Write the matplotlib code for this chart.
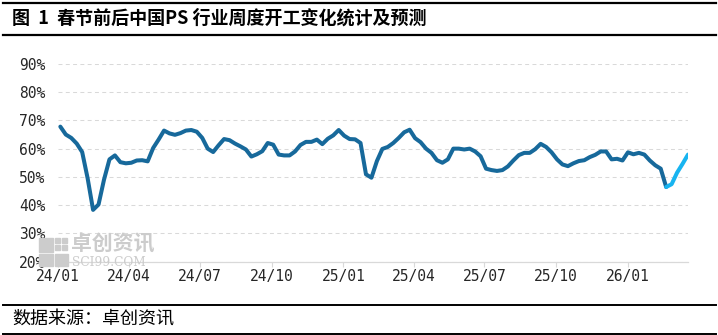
import matplotlib
matplotlib.use("Agg")
import matplotlib.pyplot as plt
from matplotlib.lines import Line2D
from matplotlib.patches import Rectangle
import pandas as pd

plt.rcParams['font.family'] = ['Noto Sans CJK SC', 'DejaVu Sans']

title = "图  1  春节前后中国PS 行业周度开工变化统计及预测"
source = "数据来源：卓创资讯"

start_date = "2024-01-04"
rates = [67.8, 65.0, 63.8, 61.8, 58.8, 49.5, 38.3, 40.2, 49.0, 56.2,
         57.6, 55.2, 54.8, 55.0, 55.8, 55.9, 55.5, 60.2, 63.2, 66.4,
         65.4, 64.9, 65.5, 66.4, 66.6, 66.0, 63.8, 60.0, 58.8, 61.2,
         63.4, 63.0, 61.8, 60.8, 59.7, 57.2, 58.0, 59.1, 62.0, 61.4,
         57.9, 57.6, 57.6, 59.0, 61.3, 62.4, 62.4, 63.2, 61.6, 63.5,
         64.7, 66.6, 64.6, 63.4, 63.3, 62.0, 50.9, 49.7, 55.6, 59.9,
         60.6, 62.0, 63.8, 65.8, 66.7, 63.7, 62.3, 60.0, 58.5, 55.9,
         55.0, 56.2, 60.0, 60.0, 59.7, 60.0, 59.0, 57.3, 52.9, 52.4,
         52.1, 52.4, 53.7, 55.8, 57.7, 58.5, 58.5, 59.8, 61.7, 60.6,
         58.7, 56.2, 54.4, 53.8, 54.8, 55.6, 55.9, 57.0, 57.8, 59.0,
         59.0, 56.2, 56.4, 55.8, 58.7, 58.0, 58.5, 57.9, 55.8, 54.1,
         52.9, 46.4]
forecast = [46.4, 47.4, 51.5, 54.6, 57.9]

dates = pd.date_range(start_date, periods=len(rates) + len(forecast) - 1, freq="7D")
actual_dates = dates[:len(rates)]
forecast_dates = dates[len(rates) - 1:]

y_ticks = [20, 30, 40, 50, 60, 70, 80, 90]
x_ticks = ["2024-01-01", "2024-04-01", "2024-07-01", "2024-10-01",
           "2025-01-01", "2025-04-01", "2025-07-01", "2025-10-01", "2026-01-01"]

W, H = 718, 335
fig = plt.figure(figsize=(W / 100, H / 100), dpi=100)
ax = fig.add_axes([58 / W, 1 - 261.5 / H, (688 - 58) / W, (261.5 - 64) / H])

# watermark (behind the plot)
wm = "#cccccc"
sq = [(39, 238, 14, 14), (55, 238, 5, 5), (62, 238, 5, 5), (55, 245, 5, 5), (62, 245, 5, 5),
      (39, 254, 14, 12), (55, 254, 13, 12)]
for (x0, y0, w, h) in sq:
    fig.patches.append(Rectangle((x0 / W, 1 - (y0 + h) / H), w / W, h / H,
                                 transform=fig.transFigure, color=wm, zorder=0))
fig.text(71 / W, 1 - 243.5 / H, "卓创资讯", fontsize=15, fontweight="bold", color=wm,
         va="center", ha="left", zorder=0)
fig.text(72 / W, 1 - 262 / H, "SCI99.COM", fontsize=8.8, color=wm, family="DejaVu Serif",
         va="center", ha="left", zorder=0)
ax.patch.set_alpha(0)

ax.plot(actual_dates, rates, color="#17699b", lw=2.9, solid_joinstyle="round",
        solid_capstyle="round", zorder=3)
ax.plot(forecast_dates, forecast, color="#18b4f0", lw=2.9, solid_joinstyle="round",
        solid_capstyle="round", zorder=3)

ax.set_ylim(20, 90)
ax.set_xlim(pd.Timestamp("2024-01-01"), dates[-1])
ax.set_yticks(y_ticks)
ax.set_yticklabels([f"{v}%" for v in y_ticks])
xt = pd.to_datetime(x_ticks)
ax.set_xticks(xt)
ax.set_xticklabels([d.strftime("%y/%m") for d in xt])

ax.grid(axis="y", color="#d9d9d9", lw=0.75, linestyle=(0, (3.8, 3.2)))
ax.set_axisbelow(True)
for s in ["top", "right", "left"]:
    ax.spines[s].set_visible(False)
ax.spines["bottom"].set_color("#d9d9d9")
ax.spines["bottom"].set_linewidth(0.9)
ax.tick_params(axis="y", length=0, pad=9, labelsize=10.5, labelcolor="#262626")
ax.tick_params(axis="x", length=3.5, width=0.8, color="#d9d9d9", direction="out",
               pad=2, labelsize=10.5, labelcolor="#262626")
for lab in ax.get_xticklabels() + ax.get_yticklabels():
    lab.set_fontfamily("DejaVu Sans Mono")

# title, source and frame lines
fig.text(12 / W, 1 - 18 / H, title, fontsize=13, fontweight="bold", color="#000000",
         va="center", ha="left")
fig.text(12 / W, 1 - 319.5 / H, source, fontsize=13, color="#000000",
         va="center", ha="left")
for yy, lw in [(2.5, 1.6), (34.5, 1.6), (304.5, 1.4), (333.5, 1.4)]:
    fig.add_artist(Line2D([3 / W, 716 / W], [1 - yy / H, 1 - yy / H],
                          transform=fig.transFigure, color="#000000", lw=lw))

fig.savefig("out.png", dpi=100)
